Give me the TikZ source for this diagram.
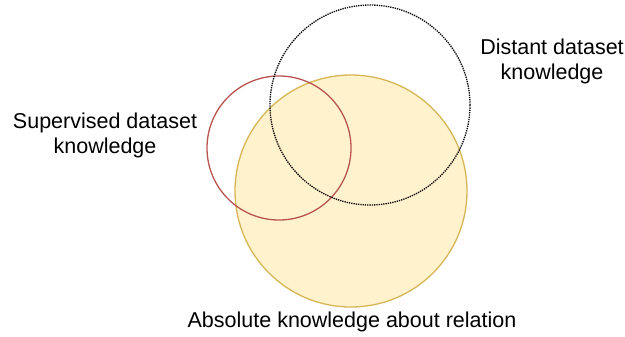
\documentclass[tikz,border=0pt]{standalone}
\usepackage{fontspec}
\setmainfont{Liberation Sans}
\definecolor{yfill}{HTML}{FFF2CC}
\definecolor{ydraw}{HTML}{D6B656}
\definecolor{rdraw}{HTML}{B85450}
\begin{document}
\begin{tikzpicture}[x=1bp,y=-1bp,
  ring/.style={circle,inner sep=0pt,line width=1.3bp},
  lbl/.style={align=center,font=\fontsize{21.5bp}{25bp}\selectfont,inner sep=0pt}]
\useasboundingbox (0,0) rectangle (625,336);
\node[ring,fill=yfill,draw=ydraw,minimum size=232bp] (abs) at (351,191) {};
\node[ring,draw=rdraw,minimum size=144bp] (sup) at (279,148) {};
\node[ring,draw=black,densely dotted,minimum size=200bp] (dist) at (370,105) {};
\node[lbl] (tdist) at (552,61) {Distant dataset\\knowledge};
\node[lbl] (tsup) at (105,135) {Supervised dataset\\knowledge};
\node[lbl] (tabs) at (352,322) {Absolute knowledge about relation};
\end{tikzpicture}
\end{document}
